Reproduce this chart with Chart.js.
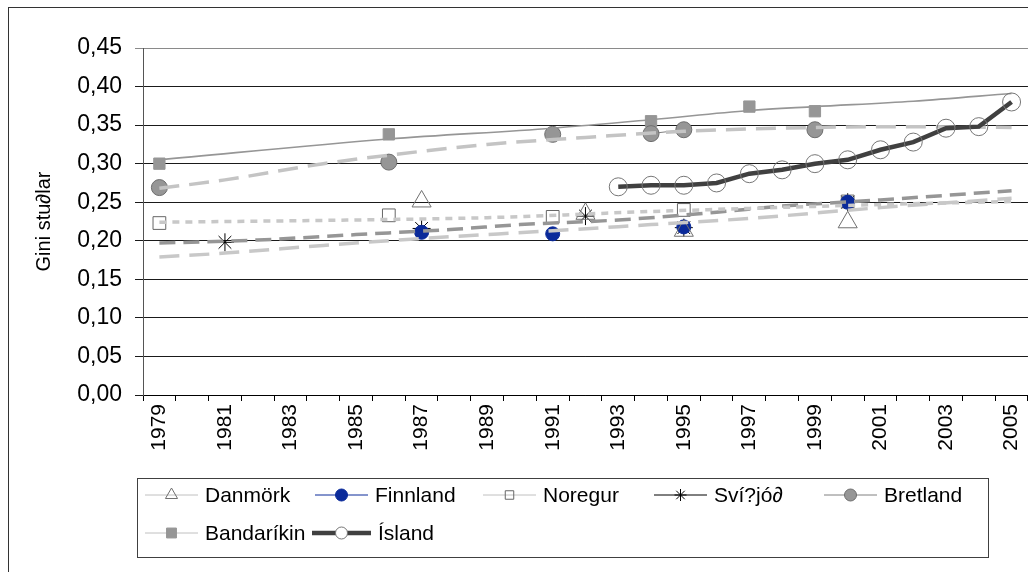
<!DOCTYPE html>
<html>
<head>
<meta charset="utf-8">
<script src="https://cdn.jsdelivr.net/npm/chart.js@4/dist/chart.umd.min.js"></script>
<style>
  html, body { margin: 0; padding: 0; background: #fff; overflow: hidden; }
  #wrap { width: 1040px; height: 572px; }
</style>
</head>
<body>
<div id="wrap"><canvas id="giniChart"></canvas></div>
<script>
const N = null;

const years = ['1979','1980','1981','1982','1983','1984','1985','1986','1987','1988','1989','1990','1991',
  '1992','1993','1994','1995','1996','1997','1998','1999','2000','2001','2002','2003','2004','2005'];

const yTicks = [0, 0.05, 0.10, 0.15, 0.20, 0.25, 0.30, 0.35, 0.40, 0.45];

const danmork    = [N,N,N,N,N,N,N,N,0.251,N,N,N,N,0.235,N,N,0.213,N,N,N,N,0.224,N,N,N,N,N];
const finnland   = [N,N,N,N,N,N,N,N,0.211,N,N,N,0.209,N,N,N,0.218,N,N,N,N,0.250,N,N,N,N,N];
const noregur    = [0.223,N,N,N,N,N,N,0.233,N,N,N,N,0.231,N,N,N,0.240,N,N,N,N,0.251,N,N,N,N,N];
const svithjod   = [N,N,0.198,N,N,N,N,N,0.216,N,N,N,N,0.232,N,N,0.217,N,N,N,N,0.250,N,N,N,N,N];
const bretland   = [0.269,N,N,N,N,N,N,0.302,N,N,N,N,0.338,N,N,0.339,0.344,N,N,N,0.344,N,N,N,N,N,N];
const bandarikin = [0.300,N,N,N,N,N,N,0.338,N,N,N,N,0.338,N,N,0.355,N,N,0.374,N,0.368,N,N,N,N,N,N];
const island     = [N,N,N,N,N,N,N,N,N,N,N,N,N,N,0.270,0.272,0.272,0.275,0.287,0.292,0.300,0.305,0.318,0.328,0.346,0.348,0.380];

// trend lines at a few years
const trendBandarikin = [['1979',0.305],['1986',0.332],['1991',0.346],['1994',0.357],['1997',0.369],['1999',0.374],['2002',0.381],['2005',0.391]];
const trendBretland   = [['1979',0.268],['1981',0.279],['1984',0.300],['1986',0.311],['1989',0.325],['1992',0.334],['1995',0.342],['1998',0.346],['2001',0.348],['2005',0.347]];
const trendNoregur    = [['1979',0.224],['1985',0.227],['1989',0.230],['1994',0.238],['1997',0.242],['2001',0.247],['2005',0.251]];
const trendSvithjod   = [['1979',0.197],['1982',0.201],['1985',0.208],['1988',0.215],['1990',0.221],['1993',0.227],['1996',0.237],['1998',0.245],['2001',0.253],['2005',0.265]];
const trendFinnland   = [['1979',0.179],['1981',0.184],['1984',0.194],['1987',0.203],['1991',0.213],['1994',0.221],['1997',0.229],['2001',0.243],['2005',0.255]];

const FONT = '"Liberation Sans", Arial, sans-serif';
Chart.defaults.font.family = FONT;
Chart.defaults.font.size = 21;
Chart.defaults.color = '#000';

function series(label, data, o) {
  return {
    label: label, data: data, order: 2, spanGaps: false, showLine: true,
    borderColor: o.line, borderWidth: o.lineWidth || 1,
    pointStyle: o.style, pointRadius: o.r, pointHoverRadius: o.r,
    pointBackgroundColor: o.fill, pointBorderColor: o.edge, pointBorderWidth: 1,
    legendR: o.lr
  };
}

function trend(label, pts, color, width, dash) {
  return {
    label: label, trend: true, order: 1,
    data: pts.map(p => ({x: p[0], y: p[1]})),
    borderColor: color, borderWidth: width, borderDash: dash,
    pointRadius: 0, pointHoverRadius: 0, fill: false,
    cubicInterpolationMode: 'monotone'
  };
}

const NONE = 'rgba(0,0,0,0)';

const datasets = [
  series('Danmörk', danmork, {style:'triangle', r:11, lr:7, fill:NONE, edge:'#707070', line:'#c0c0c0'}),
  series('Finnland', finnland, {style:'circle', r:7, lr:6, fill:'#0a2a9a', edge:'#0a2a9a', line:'#0a2a9a'}),
  series('Noregur', noregur, {style:'rect', r:9, lr:6, fill:NONE, edge:'#666', line:'#c0c0c0'}),
  series('Sví?jó∂', svithjod, {style:'star', r:9, lr:6, fill:NONE, edge:'#000', line:'#000'}),
  series('Bretland', bretland, {style:'circle', r:8, lr:6, fill:'#969696', edge:'#6e6e6e', line:'#808080'}),
  series('Bandaríkin', bandarikin, {style:'rect', r:8, lr:7, fill:'#969696', edge:'#969696', line:'#c0c0c0'}),
  series('Ísland', island, {style:'circle', r:9, lr:6, fill:NONE, edge:'#777', line:'#404040', lineWidth:4.5}),
  trend('Leitni Bandaríkin', trendBandarikin, '#969696', 1.6, []),
  trend('Leitni Bretland', trendBretland, '#c4c4c4', 3.5, [20, 10]),
  trend('Leitni Noregur', trendNoregur, '#c8c8c8', 3.5, [7, 6]),
  trend('Leitni Svíþjóð', trendSvithjod, '#969696', 3.5, [16, 8]),
  trend('Leitni Finnland', trendFinnland, '#c8c8c8', 3.5, [20, 10])
];
datasets[6].order = 0;

const frame = {
  id: 'frame',
  beforeDraw(chart) {
    const ctx = chart.ctx;
    ctx.save();
    ctx.fillStyle = '#fff';
    ctx.fillRect(0, 0, chart.width, chart.height);
    ctx.strokeStyle = '#333';
    ctx.lineWidth = 1;
    ctx.strokeRect(8.5, 7.5, chart.width + 20, chart.height + 20);
    ctx.restore();
  }
};

// legend laid out in fixed columns, as in the original
const legendBox = {
  id: 'legendBox',
  afterDraw(chart) {
    const ctx = chart.ctx;
    const slots = [[145, 495], [315, 495], [483, 495], [654, 495], [824, 495], [145, 533], [312, 533]];
    ctx.save();
    ctx.strokeStyle = '#404040';
    ctx.lineWidth = 1;
    ctx.strokeRect(137.5, 478.5, 851, 79);
    ctx.font = '21px ' + FONT;
    ctx.textBaseline = 'middle';
    ctx.textAlign = 'left';
    chart.data.datasets.filter(d => !d.trend).forEach((d, i) => {
      const [x, y] = slots[i];
      const len = d.label === 'Ísland' ? 59 : 53;
      ctx.strokeStyle = d.borderColor;
      ctx.lineWidth = d.borderWidth;
      ctx.beginPath();
      ctx.moveTo(x, y);
      ctx.lineTo(x + len, y);
      ctx.stroke();
      ctx.fillStyle = d.label === 'Ísland' ? '#fff' : d.pointBackgroundColor;
      ctx.strokeStyle = d.pointBorderColor;
      ctx.lineWidth = 1;
      Chart.helpers.drawPoint(ctx, {pointStyle: d.pointStyle, radius: d.legendR, rotation: 0, borderWidth: 1}, x + len / 2, y);
      ctx.fillStyle = '#000';
      ctx.fillText(d.label, x + len + 7, y + 1);
    });
    ctx.restore();
  }
};

new Chart(document.getElementById('giniChart'), {
  type: 'line',
  data: { labels: years, datasets: datasets },
  options: {
    responsive: true,
    maintainAspectRatio: false,
    animation: false,
    layout: { padding: { left: 0, top: 48, right: 10, bottom: 117 } },
    plugins: { legend: { display: false }, tooltip: { enabled: false } },
    scales: {
      x: {
        type: 'category',
        offset: true,
        grid: { offset: true, drawOnChartArea: false, drawTicks: true, tickLength: 6, color: '#000' },
        border: { color: '#000', width: 1 },
        ticks: {
          autoSkip: false, maxRotation: 90, minRotation: 90, padding: 3,
          font: { size: 21 },
          callback: function (v, i) { return i % 2 === 0 ? this.getLabelForValue(v) : ''; }
        },
        afterFit: s => { s.height = 60; }
      },
      y: {
        min: 0, max: 0.45,
        afterBuildTicks: s => { s.ticks = yTicks.map(v => ({ value: v })); },
        ticks: {
          padding: 13, font: { size: 23 },
          callback: v => v.toFixed(2).replace('.', ',')
        },
        grid: {
          tickLength: 8,
          color: c => (c.tick && Math.abs(c.tick.value - 0.45) < 1e-6) ? '#8a8a8a' : '#1a1a1a'
        },
        border: { color: '#555', width: 1 },
        title: { display: true, text: 'Gini stu∂lar', font: { size: 20 }, padding: { top: 32, bottom: 0 } },
        afterFit: s => { s.width = 143; }
      }
    }
  },
  plugins: [frame, legendBox]
});
</script>
</body>
</html>
